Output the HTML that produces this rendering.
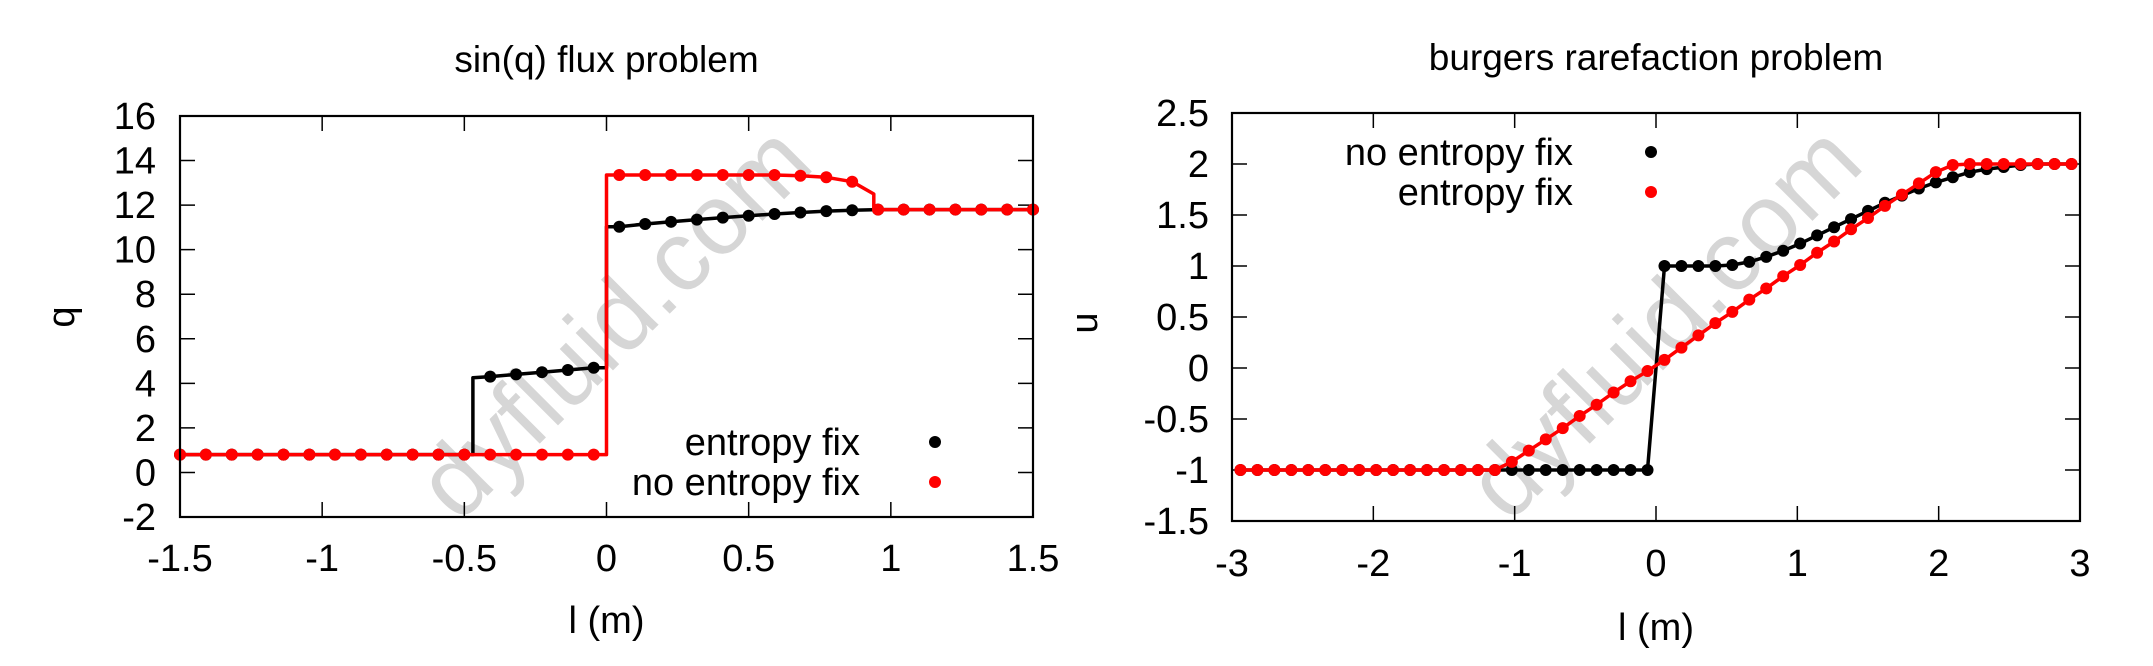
<!DOCTYPE html>
<html><head><meta charset="utf-8">
<style>
html,body{margin:0;padding:0;background:#fff;}
svg text{font-family:"Liberation Sans",sans-serif;fill:#000;}
</style></head>
<body>
<svg id="chart" width="2153" height="661" viewBox="0 0 2153 661" xmlns="http://www.w3.org/2000/svg">
<rect width="2153" height="661" fill="#fff"/>
<g id="left"></g>
<g id="right"></g>
</svg>
<script>
// ---- Left panel data (sin(q) flux problem) ----
const leftX = [-1.5,-1.409,-1.318,-1.227,-1.136,-1.045,-0.955,-0.864,-0.773,-0.682,-0.591,-0.5,-0.409,-0.318,-0.227,-0.136,-0.045,0.045,0.136,0.227,0.318,0.409,0.5,0.591,0.682,0.773,0.864,0.955,1.045,1.136,1.227,1.318,1.409,1.5];
const leftEntropyFix = [0.8,0.8,0.8,0.8,0.8,0.8,0.8,0.8,0.8,0.8,0.8,0.8,4.3,4.4,4.5,4.6,4.7,11.03,11.15,11.25,11.35,11.44,11.52,11.6,11.67,11.73,11.77,11.8,11.8,11.8,11.8,11.8,11.8,11.8];
const leftNoEntropyFix = [0.8,0.8,0.8,0.8,0.8,0.8,0.8,0.8,0.8,0.8,0.8,0.8,0.8,0.8,0.8,0.8,0.8,13.35,13.35,13.35,13.35,13.35,13.35,13.35,13.32,13.25,13.05,11.8,11.8,11.8,11.8,11.8,11.8,11.8];
const leftEntropyJumps = [[-0.47,0.8,4.25],[0.0,4.7,11.03]];
const leftNoEntropyJumps = [[0.0,0.8,13.35],[0.94,12.5,11.8]];
const leftXTicks = [-1.5,-1,-0.5,0,0.5,1,1.5];
const leftXTickLabels = ["-1.5","-1","-0.5","0","0.5","1","1.5"];
const leftYTicks = [-2,0,2,4,6,8,10,12,14,16];
const leftYTickLabels = ["-2","0","2","4","6","8","10","12","14","16"];

// ---- Right panel data (burgers rarefaction problem) ----
const rightX = [-2.94,-2.82,-2.7,-2.58,-2.46,-2.34,-2.22,-2.1,-1.98,-1.86,-1.74,-1.62,-1.5,-1.38,-1.26,-1.14,-1.02,-0.9,-0.78,-0.66,-0.54,-0.42,-0.3,-0.18,-0.06,0.06,0.18,0.3,0.42,0.54,0.66,0.78,0.9,1.02,1.14,1.26,1.38,1.5,1.62,1.74,1.86,1.98,2.1,2.22,2.34,2.46,2.58,2.7,2.82,2.94];
const rightNoEntropyFix = [-1,-1,-1,-1,-1,-1,-1,-1,-1,-1,-1,-1,-1,-1,-1,-1,-1,-1,-1,-1,-1,-1,-1,-1,-1,1,1,1,1,1.01,1.04,1.09,1.15,1.22,1.3,1.38,1.46,1.54,1.62,1.69,1.76,1.82,1.87,1.92,1.95,1.97,1.99,2,2,2];
const rightEntropyFix = [-1,-1,-1,-1,-1,-1,-1,-1,-1,-1,-1,-1,-1,-1,-1,-1,-0.92,-0.81,-0.7,-0.59,-0.47,-0.36,-0.24,-0.13,-0.03,0.08,0.2,0.32,0.44,0.55,0.67,0.78,0.9,1.01,1.13,1.24,1.36,1.47,1.59,1.7,1.81,1.92,1.99,2,2,2,2,2,2,2];
const rightXTicks = [-3,-2,-1,0,1,2,3];
const rightXTickLabels = ["-3","-2","-1","0","1","2","3"];
const rightYTicks = [-1.5,-1,-0.5,0,0.5,1,1.5,2,2.5];
const rightYTickLabels = ["-1.5","-1","-0.5","0","0.5","1","1.5","2","2.5"];

const NS = "http://www.w3.org/2000/svg";
function mk(parent, tag, attrs, text){
  const e = document.createElementNS(NS, tag);
  for (const k in attrs) e.setAttribute(k, attrs[k]);
  if (text !== undefined) e.textContent = text;
  parent.appendChild(e);
  return e;
}
function scale(d0,d1,r0,r1){ return v => r0 + (v-d0)/(d1-d0)*(r1-r0); }

function buildPath(xs, ys, jumps, sx, sy){
  const pts = xs.map((x,i)=>[x,ys[i]]);
  jumps.forEach(j=>{ pts.push([j[0],j[1],0]); pts.push([j[0],j[2],1]); });
  pts.sort((a,b)=> a[0]-b[0] || ((a[2]===undefined?0.5:a[2]) - (b[2]===undefined?0.5:b[2])));
  return pts.map((p,i)=>(i?'L':'M')+sx(p[0]).toFixed(1)+' '+sy(p[1]).toFixed(1)).join(' ');
}

function panel(g, cfg){
  const sx = scale(cfg.xd[0], cfg.xd[1], cfg.x0, cfg.x1);
  const sy = scale(cfg.yd[0], cfg.yd[1], cfg.y1, cfg.y0);
  const wm = mk(g,'text',{x:cfg.wx,y:cfg.wy,'font-size':100,'text-anchor':'middle','dominant-baseline':'middle',transform:`rotate(-45 ${cfg.wx} ${cfg.wy})`,style:'fill:#d6d6d6'},'dyfluid.com');
  
  
  const t = mk(g,'text',{x:(cfg.x0+cfg.x1)/2,y:cfg.titleY,'font-size':37,'text-anchor':'middle'},cfg.title);
  
  
  cfg.xt.forEach((v,i)=>{
    const x = sx(v);
    const tk = mk(g,'path',{d:`M${x} ${cfg.y1}V${cfg.y1-15}M${x} ${cfg.y0}V${cfg.y0+15}`,stroke:'#000','stroke-width':1.5});
    
    
    const lb = mk(g,'text',{x:x,y:cfg.xlabY,'font-size':38,'text-anchor':'middle'},cfg.xtl[i]);
    
    
  });
  cfg.yt.forEach((v,i)=>{
    const y = sy(v);
    const tk = mk(g,'path',{d:`M${cfg.x0} ${y}H${cfg.x0+15}M${cfg.x1} ${y}H${cfg.x1-15}`,stroke:'#000','stroke-width':1.5});
    
    
    const lb = mk(g,'text',{x:cfg.ylabX,y:y+13,'font-size':38,'text-anchor':'end'},cfg.ytl[i]);
    
    
  });
  const xt = mk(g,'text',{x:(cfg.x0+cfg.x1)/2,y:cfg.xTitleY,'font-size':38,'text-anchor':'middle'},'l (m)');
  
  
  const yt = mk(g,'text',{x:cfg.yTitleX,y:cfg.yTitleY,'font-size':38,'text-anchor':'middle','dominant-baseline':'middle',transform:`rotate(-90 ${cfg.yTitleX} ${cfg.yTitleY})`},cfg.ylab);
  
  
  cfg.series.forEach(s=>{
    const sg = mk(g,'g',{});
    
    
    const p = mk(sg,'path',{d:buildPath(cfg.xs,s.ys,s.jumps,sx,sy),fill:'none',stroke:s.color,'stroke-width':3.5,'stroke-linejoin':'round'});
    
    
    cfg.xs.forEach((x,i)=>{
      const c = mk(sg,'circle',{cx:sx(x),cy:sy(s.ys[i]),r:6,fill:s.color});
      
      
    });
  });
  cfg.legend.forEach((l,i)=>{
    const y = cfg.legY + i*40;
    const lt = mk(g,'text',{x:cfg.legTextX,y:y+13,'font-size':38,'text-anchor':'end'},l.label);
    
    
    const ld = mk(g,'circle',{cx:cfg.legDotX,cy:y,r:6,fill:l.color});
    
    
  });
  const fr = mk(g,'rect',{x:cfg.x0,y:cfg.y0,width:cfg.x1-cfg.x0,height:cfg.y1-cfg.y0,fill:'none',stroke:'#000','stroke-width':2.2});
  
  
}

panel(document.getElementById('left'),{
  x0:180,x1:1033,y0:116,y1:517,xd:[-1.5,1.5],yd:[-2,16],
  xt:leftXTicks,xtl:leftXTickLabels,yt:leftYTicks,ytl:leftYTickLabels,
  xs:leftX,
  series:[
    {name:'entropy-fix-series',ys:leftEntropyFix,jumps:leftEntropyJumps,color:'#000'},
    {name:'no-entropy-fix-series',ys:leftNoEntropyFix,jumps:leftNoEntropyJumps,color:'#ff0000'}
  ],
  legend:[{label:'entropy fix',color:'#000'},{label:'no entropy fix',color:'#ff0000'}],
  legY:442,legTextX:860,legDotX:935,
  title:'sin(q) flux problem',titleY:72,xlabY:571,xTitleY:633,ylab:'q',yTitleX:64,yTitleY:317,ylabX:156,
  wx:619,wy:327
});
panel(document.getElementById('right'),{
  x0:1232,x1:2080,y0:113,y1:521,xd:[-3,3],yd:[-1.5,2.5],
  xt:rightXTicks,xtl:rightXTickLabels,yt:rightYTicks,ytl:rightYTickLabels,
  xs:rightX,
  series:[
    {name:'no-entropy-fix-series',ys:rightNoEntropyFix,jumps:[],color:'#000'},
    {name:'entropy-fix-series',ys:rightEntropyFix,jumps:[],color:'#ff0000'}
  ],
  legend:[{label:'no entropy fix',color:'#000'},{label:'entropy fix',color:'#ff0000'}],
  legY:152,legTextX:1573,legDotX:1651,
  title:'burgers rarefaction problem',titleY:70,xlabY:576,xTitleY:640,ylab:'u',yTitleX:1087,yTitleY:323,ylabX:1209,
  wx:1669,wy:327
});
</script>
</body></html>
